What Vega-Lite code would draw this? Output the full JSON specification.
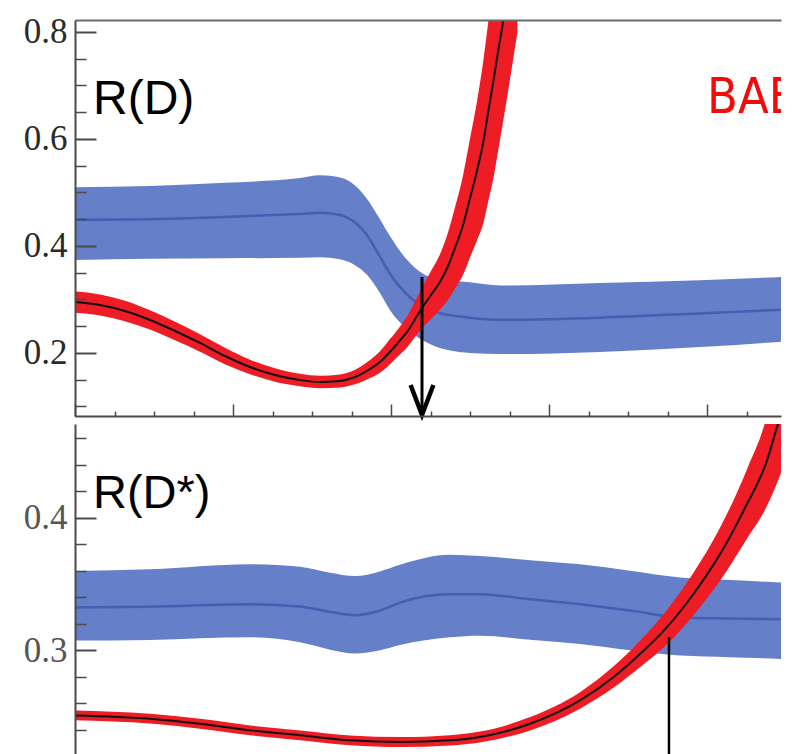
{
  "$schema": "https://vega.github.io/schema/vega-lite/v6.json",
  "padding": {"left": 23, "top": 14, "right": 18, "bottom": 0},
  "background": "white",
  "spacing": 0,
  "config": {"view": {"stroke": null}, "concat": {"spacing": 0}},
  "datasets": {
    "topBlue": [
      {"x": 0.000, "lo": 0.374, "c": 0.449, "hi": 0.510},
      {"x": 0.475, "lo": 0.376, "c": 0.450, "hi": 0.512},
      {"x": 0.949, "lo": 0.377, "c": 0.454, "hi": 0.518},
      {"x": 1.424, "lo": 0.378, "c": 0.460, "hi": 0.527},
      {"x": 1.551, "lo": 0.379, "c": 0.462, "hi": 0.532},
      {"x": 1.677, "lo": 0.375, "c": 0.458, "hi": 0.528},
      {"x": 1.772, "lo": 0.364, "c": 0.444, "hi": 0.513},
      {"x": 1.848, "lo": 0.346, "c": 0.420, "hi": 0.488},
      {"x": 1.930, "lo": 0.312, "c": 0.380, "hi": 0.450},
      {"x": 1.994, "lo": 0.280, "c": 0.348, "hi": 0.418},
      {"x": 2.120, "lo": 0.240, "c": 0.304, "hi": 0.368},
      {"x": 2.266, "lo": 0.214, "c": 0.278, "hi": 0.340},
      {"x": 2.500, "lo": 0.200, "c": 0.266, "hi": 0.332},
      {"x": 2.690, "lo": 0.198, "c": 0.262, "hi": 0.326},
      {"x": 3.323, "lo": 0.202, "c": 0.266, "hi": 0.331},
      {"x": 3.956, "lo": 0.211, "c": 0.274, "hi": 0.336},
      {"x": 4.470, "lo": 0.221, "c": 0.281, "hi": 0.342}
    ],
    "topRed": [
      {"x": 0.000, "lo": 0.2753, "mid": 0.2953, "hi": 0.3153},
      {"x": 0.158, "lo": 0.2702, "mid": 0.2897, "hi": 0.3092},
      {"x": 0.316, "lo": 0.2595, "mid": 0.2785, "hi": 0.2975},
      {"x": 0.475, "lo": 0.2437, "mid": 0.2617, "hi": 0.2797},
      {"x": 0.633, "lo": 0.2236, "mid": 0.2411, "hi": 0.2586},
      {"x": 0.791, "lo": 0.2022, "mid": 0.2187, "hi": 0.2352},
      {"x": 0.949, "lo": 0.1789, "mid": 0.1944, "hi": 0.2099},
      {"x": 1.108, "lo": 0.1603, "mid": 0.1738, "hi": 0.1873},
      {"x": 1.266, "lo": 0.1464, "mid": 0.1589, "hi": 0.1714},
      {"x": 1.424, "lo": 0.1380, "mid": 0.1495, "hi": 0.1610},
      {"x": 1.551, "lo": 0.1343, "mid": 0.1458, "hi": 0.1573},
      {"x": 1.677, "lo": 0.1357, "mid": 0.1477, "hi": 0.1597},
      {"x": 1.772, "lo": 0.1416, "mid": 0.1551, "hi": 0.1686},
      {"x": 1.867, "lo": 0.1531, "mid": 0.1701, "hi": 0.1871},
      {"x": 1.930, "lo": 0.1632, "mid": 0.1832, "hi": 0.2032},
      {"x": 1.975, "lo": 0.1733, "mid": 0.1963, "hi": 0.2193},
      {"x": 2.038, "lo": 0.1918, "mid": 0.2168, "hi": 0.2418},
      {"x": 2.101, "lo": 0.2103, "mid": 0.2393, "hi": 0.2683},
      {"x": 2.196, "lo": 0.2461, "mid": 0.2841, "hi": 0.3221},
      {"x": 2.253, "lo": 0.2634, "mid": 0.3084, "hi": 0.3534},
      {"x": 2.310, "lo": 0.2807, "mid": 0.3327, "hi": 0.3847},
      {"x": 2.361, "lo": 0.2996, "mid": 0.3626, "hi": 0.4256},
      {"x": 2.405, "lo": 0.3203, "mid": 0.3963, "hi": 0.4723},
      {"x": 2.456, "lo": 0.3463, "mid": 0.4393, "hi": 0.5323},
      {"x": 2.500, "lo": 0.3787, "mid": 0.4897, "hi": 0.6007},
      {"x": 2.544, "lo": 0.4102, "mid": 0.5402, "hi": 0.6702},
      {"x": 2.584, "lo": 0.4424, "mid": 0.5944, "hi": 0.7464},
      {"x": 2.614, "lo": 0.4816, "mid": 0.6486, "hi": 0.8156},
      {"x": 2.647, "lo": 0.5255, "mid": 0.7065, "hi": 0.8875},
      {"x": 2.677, "lo": 0.5766, "mid": 0.7626, "hi": 0.9486},
      {"x": 2.711, "lo": 0.6354, "mid": 0.8224, "hi": 1.0094},
      {"x": 2.753, "lo": 0.7115, "mid": 0.9065, "hi": 1.1015},
      {"x": 2.800, "lo": 0.8000, "mid": 1.0000, "hi": 1.2000}
    ],
    "topNotes": [
      {"x": 2.196, "y": 0.342, "y2": 0.0822, "tip": 0.0841}
    ],
    "topText": [
      {"label": "R(D)", "x": 0.114, "y": 0.6467}
    ],
    "topText2": [
      {"label": "BABAR", "x": 4.0, "y": 0.6486}
    ],
    "botBlue": [
      {"x": 0.000, "lo": 0.3073, "c": 0.3323, "hi": 0.3599},
      {"x": 0.475, "lo": 0.3078, "c": 0.3329, "hi": 0.3611},
      {"x": 1.108, "lo": 0.3098, "c": 0.3348, "hi": 0.3649},
      {"x": 1.424, "lo": 0.3060, "c": 0.3330, "hi": 0.3630},
      {"x": 1.614, "lo": 0.3005, "c": 0.3290, "hi": 0.3585},
      {"x": 1.772, "lo": 0.2975, "c": 0.3265, "hi": 0.3560},
      {"x": 1.930, "lo": 0.3000, "c": 0.3300, "hi": 0.3595},
      {"x": 2.057, "lo": 0.3040, "c": 0.3360, "hi": 0.3645},
      {"x": 2.373, "lo": 0.3098, "c": 0.3423, "hi": 0.3720},
      {"x": 2.563, "lo": 0.3110, "c": 0.3423, "hi": 0.3711},
      {"x": 2.880, "lo": 0.3080, "c": 0.3385, "hi": 0.3680},
      {"x": 3.196, "lo": 0.3047, "c": 0.3348, "hi": 0.3649},
      {"x": 3.513, "lo": 0.3000, "c": 0.3300, "hi": 0.3600},
      {"x": 3.829, "lo": 0.2960, "c": 0.3248, "hi": 0.3549},
      {"x": 4.146, "lo": 0.2948, "c": 0.3240, "hi": 0.3530},
      {"x": 4.470, "lo": 0.2935, "c": 0.3235, "hi": 0.3511}
    ],
    "botRed": [
      {"x": 0.000, "lo": 0.2472, "mid": 0.2509, "hi": 0.2546},
      {"x": 0.475, "lo": 0.2447, "mid": 0.2484, "hi": 0.2521},
      {"x": 0.791, "lo": 0.2409, "mid": 0.2446, "hi": 0.2483},
      {"x": 1.108, "lo": 0.2359, "mid": 0.2396, "hi": 0.2433},
      {"x": 1.424, "lo": 0.2322, "mid": 0.2359, "hi": 0.2396},
      {"x": 1.741, "lo": 0.2284, "mid": 0.2321, "hi": 0.2358},
      {"x": 2.057, "lo": 0.2270, "mid": 0.2308, "hi": 0.2346},
      {"x": 2.373, "lo": 0.2282, "mid": 0.2321, "hi": 0.2360},
      {"x": 2.563, "lo": 0.2305, "mid": 0.2346, "hi": 0.2387},
      {"x": 2.880, "lo": 0.2396, "mid": 0.2446, "hi": 0.2496},
      {"x": 3.196, "lo": 0.2560, "mid": 0.2622, "hi": 0.2684},
      {"x": 3.407, "lo": 0.2717, "mid": 0.2797, "hi": 0.2877},
      {"x": 3.576, "lo": 0.2872, "mid": 0.2972, "hi": 0.3072},
      {"x": 3.745, "lo": 0.3043, "mid": 0.3173, "hi": 0.3303},
      {"x": 3.913, "lo": 0.3263, "mid": 0.3423, "hi": 0.3583},
      {"x": 4.082, "lo": 0.3524, "mid": 0.3724, "hi": 0.3924},
      {"x": 4.251, "lo": 0.3840, "mid": 0.4100, "hi": 0.4360},
      {"x": 4.378, "lo": 0.4086, "mid": 0.4426, "hi": 0.4766},
      {"x": 4.441, "lo": 0.4257, "mid": 0.4677, "hi": 0.5097},
      {"x": 4.525, "lo": 0.4520, "mid": 0.5000, "hi": 0.5480}
    ],
    "botNotes": [
      {"x": 3.759, "y": 0.31, "y2": 0.2165}
    ],
    "botText": [
      {"label": "R(D*)", "x": 0.114, "y": 0.4075}
    ]
  },
  "vconcat": [
    {
      "width": 706,
      "height": 396,
      "resolve": {"axis": {"x": "independent", "y": "independent"}},
      "layer": [
        {
          "data": {"name": "topBlue"},
          "mark": {"type": "area", "color": "#506dc0", "opacity": 0.88, "interpolate": "monotone", "clip": true},
          "encoding": {
            "x": {"field": "x", "type": "quantitative", "scale": {"domain": [0, 4.468], "nice": false, "zero": false},
              "axis": {"orient": "top", "ticks": false, "labels": false, "domain": true, "domainColor": "#6a6a6a", "domainWidth": 2, "grid": false, "title": null, "zindex": 2}},
            "y": {"field": "lo", "type": "quantitative", "scale": {"domain": [0.0822, 0.8224], "nice": false, "zero": false},
              "axis": {"orient": "left", "values": [0.2, 0.4, 0.6, 0.8], "format": ".1f", "ticks": false, "domain": true, "domainColor": "#4a4a4a", "domainWidth": 2, "labelFont": "Liberation Serif", "labelFontSize": 35, "labelColor": "#2a2a2a", "labelPadding": 8, "labelOverlap": false, "labelFlush": false, "grid": false, "title": null, "zindex": 2}},
            "y2": {"field": "hi"}
          }
        },
        {
          "data": {"name": "topBlue"},
          "mark": {"type": "line", "color": "#3552a8", "strokeWidth": 2.5, "opacity": 0.7, "interpolate": "monotone", "clip": true},
          "encoding": {
            "x": {"field": "x", "type": "quantitative", "scale": {"domain": [0, 4.468], "nice": false, "zero": false},
              "axis": {"orient": "bottom", "values": [0, 1, 2, 3, 4], "labels": false, "domain": true, "domainColor": "#4a4a4a", "domainWidth": 2, "tickSize": -12, "tickWidth": 1.5, "tickColor": "#4a4a4a", "grid": false, "title": null, "zindex": 2}},
            "y": {"field": "c", "type": "quantitative", "scale": {"domain": [0.0822, 0.8224], "nice": false, "zero": false},
              "axis": {"orient": "left", "values": [0.2, 0.4, 0.6, 0.8], "labels": false, "domain": false, "tickSize": -21, "tickWidth": 2, "tickColor": "#4a4a4a", "grid": false, "title": null, "zindex": 2}}
          }
        },
        {
          "data": {"name": "topRed"},
          "mark": {"type": "area", "color": "#ee1c24", "opacity": 1, "interpolate": "monotone", "clip": true},
          "encoding": {
            "x": {"field": "x", "type": "quantitative", "scale": {"domain": [0, 4.468], "nice": false, "zero": false},
              "axis": {"orient": "bottom", "values": [0.25, 0.5, 0.75, 1.25, 1.5, 1.75, 2.25, 2.5, 2.75, 3.25, 3.5, 3.75, 4.25], "labels": false, "domain": false, "tickSize": -5, "tickWidth": 1.5, "tickColor": "#4a4a4a", "grid": false, "title": null, "zindex": 2}},
            "y": {"field": "lo", "type": "quantitative", "scale": {"domain": [0.0822, 0.8224], "nice": false, "zero": false},
              "axis": {"orient": "left", "values": [0.1, 0.15, 0.25, 0.3, 0.35, 0.45, 0.5, 0.55, 0.65, 0.7, 0.75], "labels": false, "domain": false, "tickSize": -11, "tickWidth": 1.5, "tickColor": "#4a4a4a", "grid": false, "title": null, "zindex": 2}},
            "y2": {"field": "hi"}
          }
        },
        {
          "data": {"name": "topRed"},
          "mark": {"type": "line", "color": "#111111", "strokeWidth": 2, "interpolate": "monotone", "clip": true},
          "encoding": {
            "x": {"field": "x", "type": "quantitative", "scale": {"domain": [0, 4.468], "nice": false, "zero": false}, "axis": null},
            "y": {"field": "mid", "type": "quantitative", "scale": {"domain": [0.0822, 0.8224], "nice": false, "zero": false}, "axis": null}
          }
        },
        {
          "data": {"name": "topNotes"},
          "mark": {"type": "rule", "color": "#000000", "strokeWidth": 3},
          "encoding": {
            "x": {"field": "x", "type": "quantitative", "axis": null},
            "y": {"field": "y", "type": "quantitative", "axis": null},
            "y2": {"field": "y2"}
          }
        },
        {
          "data": {"name": "topNotes"},
          "mark": {"type": "point", "shape": "M-0.38,-1L0,0L0.38,-1", "size": 3600, "filled": false, "stroke": "#000000", "strokeWidth": 4.5, "opacity": 1},
          "encoding": {
            "x": {"field": "x", "type": "quantitative", "axis": null},
            "y": {"field": "tip", "type": "quantitative", "axis": null}
          }
        },
        {
          "data": {"name": "topText"},
          "mark": {"type": "text", "align": "left", "baseline": "alphabetic", "font": "Liberation Sans", "fontSize": 48, "color": "#000000"},
          "encoding": {
            "x": {"field": "x", "type": "quantitative", "axis": null},
            "y": {"field": "y", "type": "quantitative", "axis": null},
            "text": {"field": "label"}
          }
        },
        {
          "data": {"name": "topText2"},
          "mark": {"type": "text", "align": "left", "baseline": "alphabetic", "font": "DejaVu Sans Condensed, Liberation Sans Narrow, Liberation Sans", "fontSize": 50, "color": "#f50a0a", "clip": true},
          "encoding": {
            "x": {"field": "x", "type": "quantitative", "axis": null},
            "y": {"field": "y", "type": "quantitative", "axis": null},
            "text": {"field": "label"}
          }
        }
      ]
    },
    {
      "width": 706,
      "height": 337,
      "resolve": {"axis": {"x": "independent", "y": "independent"}},
      "layer": [
        {
          "data": {"name": "botBlue"},
          "mark": {"type": "area", "color": "#506dc0", "opacity": 0.88, "interpolate": "monotone", "clip": true},
          "encoding": {
            "x": {"field": "x", "type": "quantitative", "scale": {"domain": [0, 4.468], "nice": false, "zero": false}, "axis": null},
            "y": {"field": "lo", "type": "quantitative", "scale": {"domain": [0.2165, 0.4707], "nice": false, "zero": false},
              "axis": {"orient": "left", "values": [0.3, 0.4], "format": ".1f", "ticks": false, "domain": true, "domainColor": "#4a4a4a", "domainWidth": 2, "labelFont": "Liberation Serif", "labelFontSize": 35, "labelColor": "#555555", "labelPadding": 8, "labelOverlap": false, "labelFlush": false, "grid": false, "title": null, "zindex": 2}},
            "y2": {"field": "hi"}
          }
        },
        {
          "data": {"name": "botBlue"},
          "mark": {"type": "line", "color": "#3552a8", "strokeWidth": 2.5, "opacity": 0.7, "interpolate": "monotone", "clip": true},
          "encoding": {
            "x": {"field": "x", "type": "quantitative", "scale": {"domain": [0, 4.468], "nice": false, "zero": false}, "axis": null},
            "y": {"field": "c", "type": "quantitative", "scale": {"domain": [0.2165, 0.4707], "nice": false, "zero": false},
              "axis": {"orient": "left", "values": [0.3, 0.4], "labels": false, "domain": false, "tickSize": -21, "tickWidth": 2, "tickColor": "#4a4a4a", "grid": false, "title": null, "zindex": 2}}
          }
        },
        {
          "data": {"name": "botRed"},
          "mark": {"type": "area", "color": "#ee1c24", "opacity": 1, "interpolate": "monotone", "clip": true},
          "encoding": {
            "x": {"field": "x", "type": "quantitative", "scale": {"domain": [0, 4.468], "nice": false, "zero": false}, "axis": null},
            "y": {"field": "lo", "type": "quantitative", "scale": {"domain": [0.2165, 0.4707], "nice": false, "zero": false},
              "axis": {"orient": "left", "values": [0.22, 0.24, 0.26, 0.28, 0.32, 0.34, 0.36, 0.38, 0.42, 0.44, 0.46], "labels": false, "domain": false, "tickSize": -11, "tickWidth": 1.5, "tickColor": "#4a4a4a", "grid": false, "title": null, "zindex": 2}},
            "y2": {"field": "hi"}
          }
        },
        {
          "data": {"name": "botRed"},
          "mark": {"type": "line", "color": "#111111", "strokeWidth": 2, "interpolate": "monotone", "clip": true},
          "encoding": {
            "x": {"field": "x", "type": "quantitative", "scale": {"domain": [0, 4.468], "nice": false, "zero": false}, "axis": null},
            "y": {"field": "mid", "type": "quantitative", "scale": {"domain": [0.2165, 0.4707], "nice": false, "zero": false}, "axis": null}
          }
        },
        {
          "data": {"name": "botNotes"},
          "mark": {"type": "rule", "color": "#000000", "strokeWidth": 2.5},
          "encoding": {
            "x": {"field": "x", "type": "quantitative", "axis": null},
            "y": {"field": "y", "type": "quantitative", "axis": null},
            "y2": {"field": "y2"}
          }
        },
        {
          "data": {"name": "botText"},
          "mark": {"type": "text", "align": "left", "baseline": "alphabetic", "font": "Liberation Sans", "fontSize": 47, "color": "#000000"},
          "encoding": {
            "x": {"field": "x", "type": "quantitative", "axis": null},
            "y": {"field": "y", "type": "quantitative", "axis": null},
            "text": {"field": "label"}
          }
        }
      ]
    }
  ]
}
